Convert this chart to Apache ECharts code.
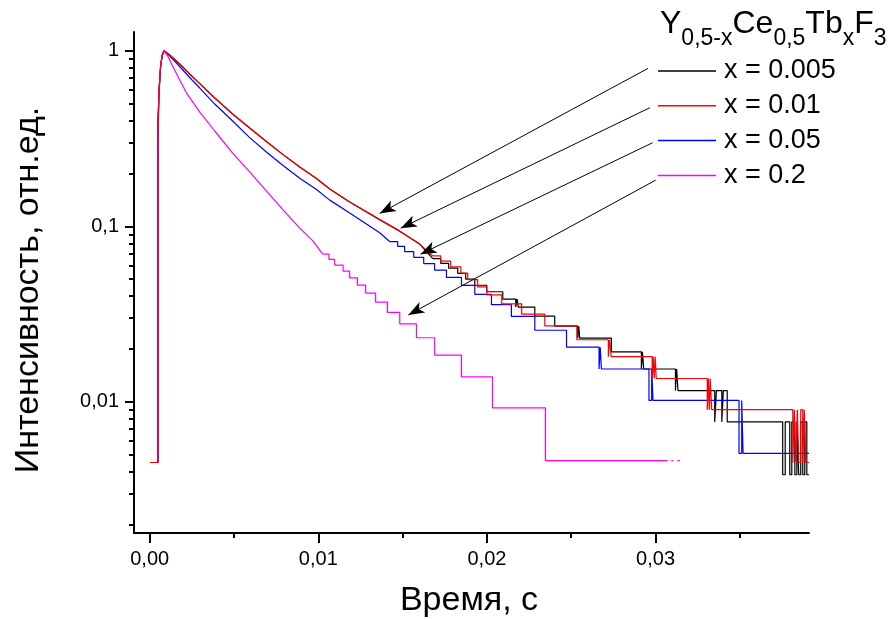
<!DOCTYPE html>
<html>
<head>
<meta charset="utf-8">
<script src="https://cdn.jsdelivr.net/npm/echarts@6/dist/echarts.min.js"></script>
<style>
  html, body { margin: 0; padding: 0; background: #ffffff; }
  #chart { width: 896px; height: 619px; }
</style>
</head>
<body>
<div id="chart"></div>
<script>
// Luminescence decay of Y(0.5-x)Ce(0.5)Tb(x)F3, time in seconds, intensity normalised to the peak.

const xTicks = [0, 0.01, 0.02, 0.03];
const xMinorTicks = [0.005, 0.015, 0.025, 0.035];
const yTicks = [0.01, 0.1, 1];
const yMinorTicks = [0.002, 0.003, 0.004, 0.005, 0.006, 0.007, 0.008, 0.009,
                     0.02, 0.03, 0.04, 0.05, 0.06, 0.07, 0.08, 0.09,
                     0.2, 0.3, 0.4, 0.5, 0.6, 0.7, 0.8, 0.9];

const seriesNames = ['x = 0.005', 'x = 0.01', 'x = 0.05', 'x = 0.2'];

// x = 0.005 : continuous part of the decay
const black005Head = [
  [0.00049, 0.0045], [0.00049, 0.38], [0.00056, 0.60], [0.00065, 0.82], [0.00074, 0.94], [0.00085, 1],
  [0.00119, 0.945], [0.00178, 0.840], [0.00237, 0.737], [0.00297, 0.650], [0.00386, 0.538],
  [0.00492, 0.436], [0.00593, 0.363], [0.00692, 0.304], [0.00791, 0.256], [0.00890, 0.2175],
  [0.00989, 0.187], [0.01068, 0.163], [0.01186, 0.1374], [0.01364, 0.1092], [0.01483, 0.0939],
  [0.01601, 0.0792], [0.01679, 0.0655]
];
// x = 0.005 : quantised tail (level starts)
const black005Tail = [
  [0.01679, 0.0655], [0.01726, 0.0616], [0.01773, 0.0578], [0.01827, 0.0539], [0.01874, 0.0501],
  [0.01928, 0.0462], [0.01999, 0.0424], [0.02094, 0.0385], [0.02171, 0.0347], [0.02179, 0.0385],
  [0.02186, 0.0347], [0.02284, 0.0308], [0.02402, 0.0270], [0.02539, 0.0231], [0.02545, 0.0270],
  [0.02550, 0.0231], [0.02738, 0.0193], [0.02916, 0.0154], [0.02922, 0.0193], [0.02930, 0.0154],
  [0.03118, 0.0116], [0.03125, 0.0154], [0.03133, 0.0116], [0.03351, 0.0077], [0.03361, 0.0116],
  [0.03393, 0.0077], [0.03402, 0.0116], [0.03425, 0.0077], [0.03754, 0.00385], [0.03769, 0.0077],
  [0.03796, 0.00385], [0.03808, 0.0077], [0.03826, 0.00385], [0.03838, 0.0077], [0.03849, 0.00385],
  [0.03861, 0.0077], [0.03873, 0.00385], [0.03885, 0.0077], [0.03897, 0.00385], [0.0391, 0.00385]
];

// x = 0.01
const red01Head = [
  [0, 0.00452], [0.00049, 0.00452], [0.00049, 0.29], [0.00056, 0.60], [0.00065, 0.82], [0.00074, 0.94], [0.00085, 1],
  [0.00119, 0.945], [0.00178, 0.840], [0.00237, 0.737], [0.00297, 0.650], [0.00386, 0.538],
  [0.00492, 0.436], [0.00593, 0.363], [0.00692, 0.304], [0.00791, 0.256], [0.00890, 0.2175],
  [0.00989, 0.187], [0.01068, 0.163], [0.01186, 0.1374], [0.01364, 0.1092], [0.01483, 0.0939],
  [0.01601, 0.0792], [0.01679, 0.0678]
];
const red01Tail = [
  [0.01679, 0.0678], [0.01726, 0.0633], [0.01785, 0.0588], [0.01845, 0.0542], [0.01886, 0.0497],
  [0.01945, 0.0452], [0.01999, 0.0407], [0.02088, 0.0362], [0.02206, 0.0316], [0.02343, 0.0271],
  [0.02533, 0.0226], [0.02720, 0.0181], [0.02728, 0.0226], [0.02737, 0.0181], [0.02980, 0.0136],
  [0.02986, 0.0181], [0.02992, 0.0136], [0.02998, 0.0181], [0.03004, 0.0136], [0.03307, 0.00904],
  [0.03313, 0.0136], [0.03319, 0.00904], [0.03324, 0.0136], [0.03333, 0.00904], [0.03814, 0.00452],
  [0.03823, 0.00904], [0.03832, 0.00452], [0.03841, 0.00904], [0.03849, 0.00452], [0.03861, 0.00904],
  [0.03873, 0.00452], [0.03882, 0.00904], [0.03891, 0.00452], [0.0391, 0.00452]
];

// x = 0.05
const blue05Head = [
  [0.00049, 0.0045], [0.00049, 0.40], [0.00056, 0.60], [0.00065, 0.82], [0.00074, 0.94], [0.00085, 1],
  [0.00119, 0.933], [0.00178, 0.813], [0.00237, 0.704], [0.00297, 0.613], [0.00386, 0.497],
  [0.00492, 0.398], [0.00593, 0.320], [0.00692, 0.265], [0.00791, 0.222], [0.00890, 0.188],
  [0.00989, 0.162], [0.01068, 0.141], [0.01186, 0.119], [0.01263, 0.1064], [0.01364, 0.0920],
  [0.01423, 0.0819]
];
const blue05Tail = [
  [0.01423, 0.0819], [0.01471, 0.0768], [0.01512, 0.0717], [0.01566, 0.0666], [0.01625, 0.0614],
  [0.01690, 0.0563], [0.01760, 0.0512], [0.01849, 0.0461], [0.01928, 0.0410], [0.02027, 0.0358],
  [0.02145, 0.0307], [0.02284, 0.0256], [0.02472, 0.0205], [0.02665, 0.0154], [0.02672, 0.0205],
  [0.02679, 0.0154], [0.02961, 0.0102], [0.02977, 0.0154], [0.02985, 0.0102], [0.03495, 0.0051],
  [0.03511, 0.0102], [0.03519, 0.0051], [0.0391, 0.0051]
];

// x = 0.2
const magenta2Head = [
  [0.00049, 0.0045], [0.00049, 0.36], [0.00056, 0.60], [0.00065, 0.82], [0.00074, 0.94], [0.00085, 1],
  [0.00107, 0.933], [0.00136, 0.818], [0.00178, 0.681], [0.00219, 0.574], [0.00297, 0.447],
  [0.00386, 0.349], [0.00492, 0.261], [0.00593, 0.204], [0.00692, 0.159], [0.00791, 0.124],
  [0.00890, 0.0976], [0.00969, 0.0823], [0.01026, 0.0695]
];
const magenta2Tail = [
  [0.01026, 0.0695], [0.01063, 0.0648], [0.01097, 0.0602], [0.01147, 0.0556], [0.01186, 0.0509],
  [0.01232, 0.0463], [0.01281, 0.0417], [0.01340, 0.0370], [0.01410, 0.0324], [0.01483, 0.0278],
  [0.01582, 0.0232], [0.01690, 0.0185], [0.01849, 0.0139], [0.02033, 0.00926], [0.02347, 0.00463],
  [0.03072, 0.00463]
];
const magenta2Last1 = [[0.03093, 0.00463], [0.03105, 0.00463]];
const magenta2Last2 = [[0.03129, 0.00463], [0.03144, 0.00463]];

// annotation arrows: [from, to] in data coordinates
const arrowCoords = [
  [[0.02956, 0.794], [0.01364, 0.1185]],
  [[0.02966, 0.4735], [0.01489, 0.0976]],
  [[0.02982, 0.2991], [0.01606, 0.0694]],
  [[0.03001, 0.1833], [0.01534, 0.0313]]
];

const FONT = '"Liberation Sans", Arial, Helvetica, sans-serif';
const colors = { black: '#000000', red: '#ff0000', blue: '#0000ff', magenta: '#ff00ff' };

function lineSeries(name, data, color, step) {
  return {
    name: name,
    type: 'line',
    data: data,
    step: step ? 'end' : false,
    showSymbol: false,
    symbol: 'none',
    silent: true,
    lineStyle: { color: color, width: 1.2 },
    itemStyle: { color: color },
    emphasis: { disabled: true },
    xAxisIndex: 0,
    yAxisIndex: 0
  };
}

const chart = echarts.init(document.getElementById('chart'), null, { renderer: 'canvas' });

// tick labels use a decimal comma
const fmtX = v => '{t|' + v.toFixed(2).replace('.', ',') + '}';
const fmtY = v => '{t|' + String(v).replace('.', ',') + '}';
const tickRich = { t: { fontSize: 20, fontFamily: FONT, color: '#000' } };

const option = {
  animation: false,
  backgroundColor: '#ffffff',
  grid: { left: 134, top: 32, right: 87, bottom: 86, containLabel: false },
  legend: {
    data: seriesNames,
    orient: 'vertical',
    left: 658,
    top: 57.5,
    padding: 0,
    itemWidth: 58,
    itemHeight: 1.5,
    itemGap: 7.8,
    icon: 'rect',
    selectedMode: false,
    textStyle: { fontFamily: FONT, fontSize: 27, lineHeight: 27, color: '#000', padding: [0, 0, 0, 3] }
  },
  xAxis: [
    {
      type: 'value', min: -0.00093, max: 0.0391,
      splitLine: { show: false },
      axisLine: { show: true, onZero: false, lineStyle: { color: '#000', width: 2 } },
      axisTick: { show: true, length: 10, lineStyle: { color: '#000', width: 2 }, customValues: xTicks },
      axisLabel: { show: true, margin: 16, fontSize: 20, fontFamily: FONT, color: '#000',
                   customValues: xTicks, formatter: fmtX, rich: tickRich }
    },
    {
      type: 'value', min: -0.00093, max: 0.0391, position: 'bottom',
      splitLine: { show: false },
      axisLine: { show: false, onZero: false },
      axisTick: { show: true, length: 5, lineStyle: { color: '#000', width: 2 }, customValues: xMinorTicks },
      axisLabel: { show: false }
    }
  ],
  yAxis: [
    {
      type: 'log', logBase: 10, min: 0.001794, max: 1.278,
      splitLine: { show: false },
      axisLine: { show: true, onZero: false, lineStyle: { color: '#000', width: 2 } },
      axisTick: { show: true, length: 9, lineStyle: { color: '#000', width: 2 }, customValues: yTicks },
      axisLabel: { show: true, margin: 15, fontSize: 20, fontFamily: FONT, color: '#000',
                   customValues: yTicks, formatter: fmtY, rich: tickRich }
    },
    {
      type: 'log', logBase: 10, min: 0.001794, max: 1.278, position: 'left',
      splitLine: { show: false },
      axisLine: { show: false, onZero: false },
      axisTick: { show: true, length: 5, lineStyle: { color: '#000', width: 2 }, customValues: yMinorTicks },
      axisLabel: { show: false }
    }
  ],
  series: [
    lineSeries(seriesNames[0], black005Head, colors.black, false),
    lineSeries(seriesNames[0], black005Tail, colors.black, true),
    lineSeries(seriesNames[2], blue05Head, colors.blue, false),
    lineSeries(seriesNames[2], blue05Tail, colors.blue, true),
    lineSeries(seriesNames[3], magenta2Head, colors.magenta, false),
    lineSeries(seriesNames[3], magenta2Tail, colors.magenta, true),
    lineSeries(seriesNames[3], magenta2Last1, colors.magenta, false),
    lineSeries(seriesNames[3], magenta2Last2, colors.magenta, false),
    lineSeries(seriesNames[1], red01Head, colors.red, false),
    lineSeries(seriesNames[1], red01Tail, colors.red, true),
    {
      name: 'arrows',
      type: 'line',
      data: [],
      silent: true,
      xAxisIndex: 0,
      yAxisIndex: 0,
      markLine: {
        silent: true,
        animation: false,
        symbol: ['none', 'arrow'],
        symbolSize: [9, 16],
        label: { show: false },
        emphasis: { disabled: true },
        lineStyle: { color: '#000', width: 1, type: 'solid' },
        data: arrowCoords.map(a => [{ coord: a[0] }, { coord: a[1] }])
      }
    }
  ],
  graphic: [
    {
      type: 'text', x: 29, y: 290, rotation: Math.PI / 2, silent: true,
      style: { text: 'Интенсивность, отн.ед.', fontSize: 34, fontFamily: FONT, fill: '#000',
               align: 'center', verticalAlign: 'middle', textAlign: 'center', textVerticalAlign: 'middle' }
    },
    {
      type: 'text', x: 469, y: 601, silent: true,
      style: { text: 'Время, с', fontSize: 34, fontFamily: FONT, fill: '#000',
               align: 'center', verticalAlign: 'middle', textAlign: 'center', textVerticalAlign: 'middle' }
    },
    {
      type: 'text', x: 660, y: 8, silent: true,
      style: {
        text: '{b|Y}{s|0,5-x}{b|Ce}{s|0,5}{b|Tb}{s|x}{b|F}{s|3}',
        fill: '#000', align: 'left', verticalAlign: 'top', textAlign: 'left', textVerticalAlign: 'top',
        rich: {
          b: { fontSize: 32, fontFamily: FONT, lineHeight: 32, verticalAlign: 'top', fill: '#000', color: '#000' },
          s: { fontSize: 23, fontFamily: FONT, lineHeight: 23, verticalAlign: 'top', padding: [19, 0, 0, 0], fill: '#000', color: '#000' }
        }
      }
    }
  ]
};

chart.setOption(option);
</script>
</body>
</html>
